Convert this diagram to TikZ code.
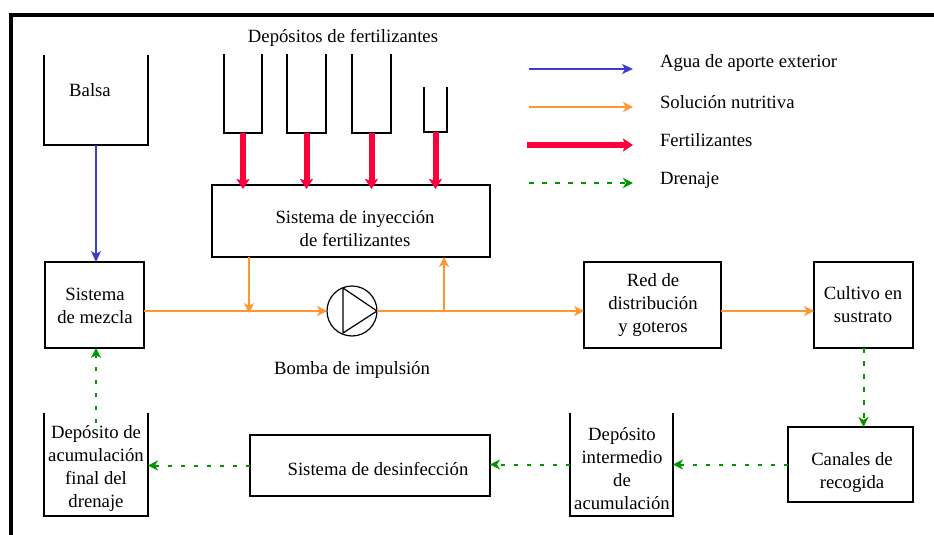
\documentclass[tikz,border=0pt]{standalone}
\usepackage{fontspec}
\setmainfont{Liberation Serif}
\newfontfamily\lserif{Liberation Serif}
\usetikzlibrary{arrows.meta}
\definecolor{cblue}{RGB}{60,60,210}
\definecolor{corange}{RGB}{255,150,50}
\definecolor{cred}{RGB}{250,0,60}
\definecolor{cgreen}{RGB}{0,150,0}
\begin{document}
\begin{tikzpicture}[x=1pt,y=-1pt,
  every node/.style={font=\lserif\fontsize{18.7}{23}\selectfont, inner sep=0pt, outer sep=0pt},
  txt/.style={align=center},
  box/.style={draw, line width=1.3pt},
  hold/.style={},
  tank/.style={line width=1.4pt},
  barr/.style={cblue, line width=1.3pt, -{Stealth[length=11pt,width=10pt,inset=3pt]}},
  oarr/.style={corange, line width=1.6pt, -{Stealth[length=10pt,width=10pt,inset=3pt]}},
  rarr/.style={cred, line width=6pt, -{Stealth[length=10pt,width=13pt,inset=2pt]}},
  garr/.style={cgreen, line width=2pt, dash pattern=on 4.5pt off 8.5pt, -{Stealth[length=10pt,width=10pt,inset=3pt]}}]
\useasboundingbox (0,0) rectangle (934,535);
\fill[white] (0,0) rectangle (934,535);
% frame
\draw[line width=4pt] (9,15.5) -- (934,15.5);
\draw[line width=4pt] (11,13.5) -- (11,535);

% boxes
\node[box, minimum width=99pt, minimum height=86pt] (mix) at (94.5,305) {};
\node[box, minimum width=278pt, minimum height=72pt] (iny) at (351,221) {};
\node[box, minimum width=137pt, minimum height=86pt] (red) at (652.5,305) {};
\node[box, minimum width=99pt, minimum height=86pt] (cult) at (863.5,305) {};
\node[box, minimum width=125pt, minimum height=75pt] (can) at (850.5,464.5) {};
\node[box, minimum width=240pt, minimum height=61pt] (des) at (370,465.5) {};
\node[draw, circle, minimum size=50pt, line width=1.2pt] (pump) at (352,311) {};
\draw[line width=1.2pt, line join=round] (343,288) -- (343,333) -- (377,311) -- cycle;

% open tanks
\node[hold, minimum width=104pt, minimum height=90pt] (balsa) at (96,100) {};
\node[hold, minimum width=104pt, minimum height=103pt] (dfin) at (96,464.5) {};
\node[hold, minimum width=103pt, minimum height=103pt] (inter) at (621.5,464.5) {};
\node[hold, minimum width=38pt, minimum height=79pt] (t1) at (243,93.5) {};
\node[hold, minimum width=39pt, minimum height=79pt] (t2) at (306.5,93.5) {};
\node[hold, minimum width=39pt, minimum height=79pt] (t3) at (371.5,93.5) {};
\node[hold, minimum width=23pt, minimum height=45pt] (t4) at (435.5,109.5) {};
\foreach \t in {balsa,dfin,inter,t1,t2,t3,t4}
  \draw[tank] (\t.north west) -- (\t.south west) -- (\t.south east) -- (\t.north east);

% texts
\node (balsaT) at (90,90) {Balsa};
\node (depT) at (343,38) {Depósitos de fertilizantes};
\node[txt] (inyT) at (355,229) {Sistema de inyección\\de fertilizantes};
\node[txt] (mixT) at (95,306) {Sistema\\de mezcla};
\node (pumpT) at (352,370) {Bomba de impulsión};
\node[txt] (redT) at (653,305) {Red de\\distribución\\y goteros};
\node[txt] (cultT) at (863,305) {Cultivo en\\sustrato};
\node[txt] (canT) at (852,473) {Canales de\\recogida};
\node[txt] (interT) at (622,469) {Depósito\\intermedio\\de\\acumulación};
\node[txt] (dfinT) at (96,468) {Depósito de\\acumulación\\final del\\drenaje};
\node (desT) at (378,469) {Sistema de desinfección};

% connectors
\draw[barr] (balsa.south) -- (balsa.south |- mix.north);
\foreach \t in {t1,t2,t3,t4}
  \draw[rarr] (\t.south) -- ([yshift=-4pt]\t.south |- iny.north);
\draw[oarr] (mix.east |- pump.center) -- (pump.west);
\coordinate (j1) at (249,311);
\coordinate (j2) at (444,311);
\draw[oarr] (iny.south -| j1) -- ([yshift=-2pt]j1);
\draw[oarr] (pump.east) -- (red.west |- pump.center);
\draw[oarr] (j2) -- (iny.south -| j2);
\draw[oarr] (red.east |- pump.center) -- (cult.west |- pump.center);
\draw[garr] (cult.south) -- (cult.south |- can.north);
\draw[garr] (can.west) -- (inter.east);
\draw[garr] (inter.west) -- (inter.west -| des.east);
\draw[garr] (des.west) -- (des.west -| dfin.east);
\draw[garr] ([yshift=-10pt]dfin.north) -- (dfin.north |- mix.south);

% legend
\coordinate (l1a) at (529,69);  \coordinate (l1b) at (633,69);
\coordinate (l2a) at (529,107); \coordinate (l2b) at (633,107);
\coordinate (l3a) at (527,145); \coordinate (l3b) at (633,145);
\coordinate (l4a) at (529,183); \coordinate (l4b) at (633,183);
\draw[barr] (l1a) -- (l1b);
\draw[oarr] (l2a) -- (l2b);
\draw[rarr] (l3a) -- (l3b);
\draw[garr] (l4a) -- (l4b);
\node[anchor=west] (lg1) at (660,63) {Agua de aporte exterior};
\node[anchor=west] (lg2) at (660,102) {Solución nutritiva};
\node[anchor=west] (lg3) at (660,140) {Fertilizantes};
\node[anchor=west] (lg4) at (660,180) {Drenaje};
\end{tikzpicture}
\end{document}
